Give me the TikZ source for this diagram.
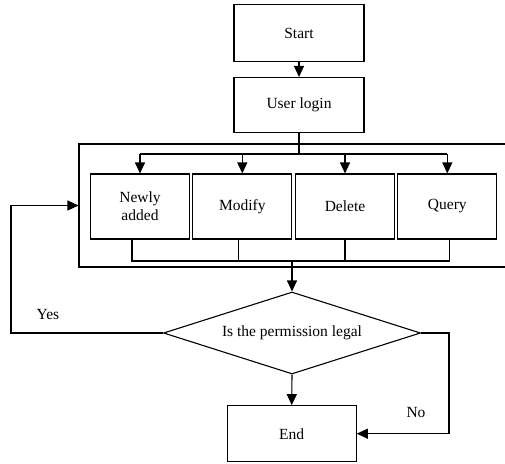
\documentclass[tikz,border=0pt]{standalone}
\usepackage{fontspec}
\setmainfont{Liberation Serif}
\usetikzlibrary{shapes.geometric,arrows.meta}
\begin{document}
\begin{tikzpicture}[x=1pt,y=-1pt,
  every node/.style={font=\fontsize{15.5}{18}\selectfont},
  box/.style={draw,line width=1.1pt,inner sep=0pt,align=center},
  line/.style={line width=1.1pt},
  arr/.style={line width=1.1pt,-{Triangle[length=11pt,width=10pt]}},
  lbl/.style={inner sep=0pt}]
\useasboundingbox (0,0) rectangle (505,463);
\node[box,minimum width=130,minimum height=57] (start) at (299,33) {Start};
\node[box,minimum width=130,minimum height=55] (login) at (299,105) {User login};
\node[box,minimum width=438,minimum height=123] (frame) at (298,205.5) {};
\node[box,minimum width=99,minimum height=65] (na) at (140,206.5) {Newly\\added};
\node[box,minimum width=99,minimum height=65] (mod) at (242.3,206.5) {Modify};
\node[box,minimum width=99,minimum height=65] (del) at (345,206.5) {Delete};
\node[box,minimum width=99,minimum height=65] (qry) at (447.3,206.5) {Query};
\node[draw,line width=1.1pt,diamond,inner sep=0pt,aspect=3.13,minimum width=257,minimum height=82] (dia) at (292,333) {Is the permission legal};
\node[box,minimum width=129,minimum height=56] (end) at (291.7,433.7) {End};
\coordinate (dl) at (299,154);
\coordinate (cl) at (292,261);
\draw[arr] (start) -- (login);
\draw[line] (login.south) -- (dl);
\draw[line] (na.north |- dl) -- (qry.north |- dl);
\foreach \b in {na,mod,del,qry}{
  \draw[arr] (\b.north |- dl) -- (\b.north);
}
\draw[line] ([xshift=-8pt]na.south) |- (cl) -| ([xshift=2pt]qry.south);
\draw[line] ([xshift=-3.5pt]mod.south) -- ([xshift=-3.5pt]mod.south |- cl);
\draw[line] (del.south) -- (del.south |- cl);
\draw[arr] (cl) -- (dia.north);
\draw[arr] (dia.south) -- (end.north);
\coordinate (yl) at (11,333);
\draw[arr] (dia.west) -- (yl) |- (frame.west);
\coordinate (nr) at (449,333);
\draw[arr] (dia.east) -- (nr) |- (end.east);
\node[lbl] (yes) at (48,314) {Yes};
\node[lbl] (no) at (416,412) {No};
\end{tikzpicture}
\end{document}
